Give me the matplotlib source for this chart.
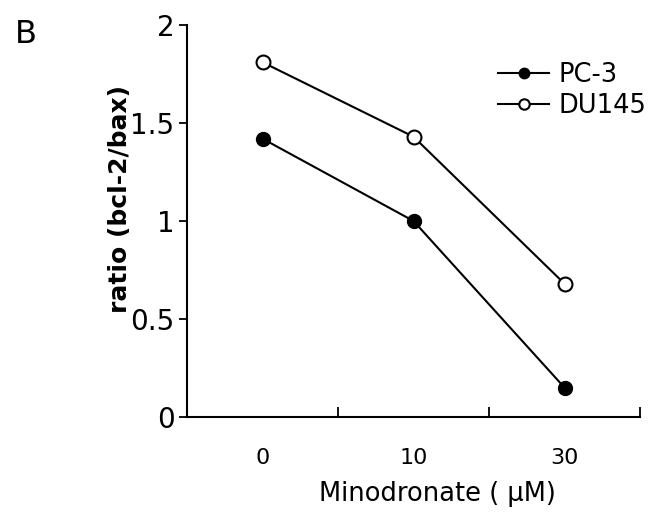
import numpy as np
import matplotlib.pyplot as plt

# values
doses = ["0", "10", "30"]
pc3 = [1.42, 1.00, 0.15]
du145 = [1.81, 1.43, 0.68]
yticks = [0, 0.5, 1, 1.5, 2]
ytick_labels = ["0", "0.5", "1", "1.5", "2"]

fig = plt.figure(figsize=(6.48, 5.12), dpi=100)
ax = fig.add_axes([187/648, 1 - 417/512, 453/648, 392/512])

x = np.arange(len(doses))
ax.plot(x, pc3, "-o", color="black", lw=1.5, ms=10,
        mfc="black", mec="black", label="PC-3")
ax.plot(x, du145, "-o", color="black", lw=1.5, ms=10,
        mfc="white", mec="black", mew=1.5, label="DU145")

ax.set_xlim(-0.5, 2.5)
ax.set_ylim(0, 2)

# bin separators as inward major ticks, labels at bin centres
ax.set_xticks([0.5, 1.5, 2.5])
ax.set_xticklabels([])
ax.set_xticks(x, minor=True)
ax.set_xticklabels(doses, minor=True)
ax.tick_params(axis="x", which="major", direction="in", length=7, width=1.3)
ax.tick_params(axis="x", which="minor", length=0, pad=22, labelsize=16)

ax.set_yticks(yticks)
ax.set_yticklabels(ytick_labels)
ax.tick_params(axis="y", direction="out", length=6, width=1.3, pad=3, labelsize=20)

for s in ["top", "right"]:
    ax.spines[s].set_visible(False)
for s in ["left", "bottom"]:
    ax.spines[s].set_linewidth(1.5)

ax.set_xlabel("Minodronate ( μM)", fontsize=18.5)
ax.xaxis.set_label_coords(250/453, -0.163)
ax.set_ylabel("ratio (bcl-2/bax)", fontsize=18, fontweight="bold")
ax.yaxis.set_label_coords(-0.122, 0.556)

fig.text(15/648, 1 - 43/512, "B", fontsize=23, va="baseline")

ax.legend(loc="upper left", bbox_to_anchor=(498/648, 1 - 62/512),
          bbox_transform=fig.transFigure, frameon=False, fontsize=18.5,
          handlelength=2.0, handletextpad=0.35, labelspacing=0.2,
          borderpad=0, borderaxespad=0, markerscale=0.75)

fig.savefig("out.png", dpi=100)
